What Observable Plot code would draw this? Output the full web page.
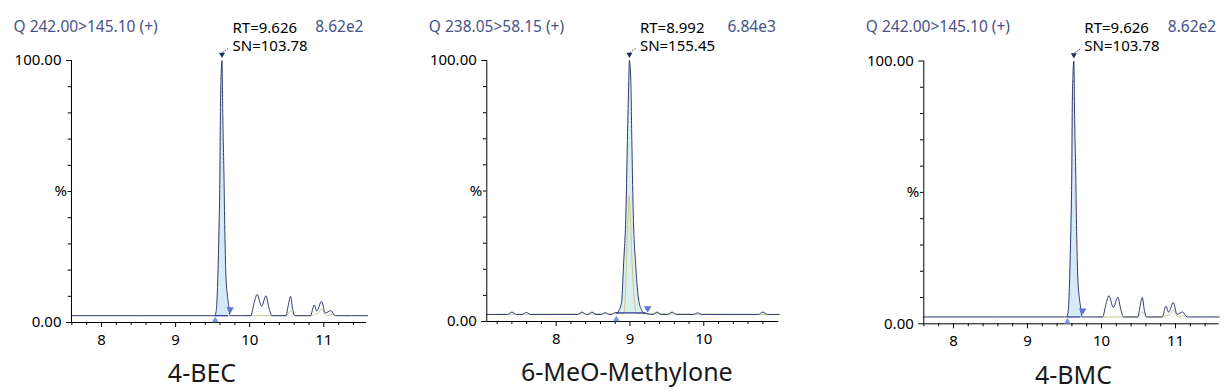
<!DOCTYPE html>
<html><head><meta charset="utf-8">
<script src="https://cdn.jsdelivr.net/npm/d3@7"></script>
<script src="https://cdn.jsdelivr.net/npm/@observablehq/plot@0.6"></script>
<style>
body{margin:0;background:#fff;}
#wrap{position:relative;width:1228px;height:391px;overflow:hidden;background:#fff;}
#wrap svg{position:absolute;top:0;}
</style></head><body><div id="wrap"></div>
<script>
// ---- data ----
const titles = ["4-BEC", "6-MeO-Methylone", "4-BMC"];
const transitions = ["Q 242.00>145.10 (+)", "Q 238.05>58.15 (+)", "Q 242.00>145.10 (+)"];
const maxIntensity = ["8.62e2", "6.84e3", "8.62e2"];
const rtValues = [9.626, 8.992, 9.626];
const snValues = [103.78, 155.45, 103.78];
const peakStart = [9.535, 8.815, 9.54];
const peakEnd = [9.735, 9.24, 9.745];
const baseLevel = [2.6, 2.7, 2.6];
const integrationLevel = [2.6, 3.3, 2.6];
const majorTicks = [[8, 9, 10, 11], [8, 9, 10], [8, 9, 10, 11]];

// chromatogram for 242.00>145.10 (4-BEC and 4-BMC)
const timeA = [7.59, 9.50, 9.525, 9.545, 9.556, 9.571, 9.585, 9.598, 9.606, 9.615, 9.626, 9.630, 9.634, 9.652, 9.664, 9.678, 9.700, 9.714, 9.735,
  10.015, 10.06, 10.10, 10.16, 10.22, 10.26, 10.30, 10.49, 10.52, 10.55, 10.58, 10.61, 10.82, 10.87, 10.905, 10.97, 11.02, 11.095, 11.155, 11.59];
const intensityA = [2.6, 2.6, 2.6, 4, 7, 18.6, 35, 56.7, 84.7, 95, 100, 95, 84.7, 56.7, 35, 18.6, 10, 7, 2.6,
  2.6, 7.5, 10.7, 6.2, 10.2, 5.5, 2.6, 2.6, 6.5, 10.0, 5, 2.6, 2.6, 6.7, 4.4, 8.1, 3.6, 4.5, 2.6, 2.6];
const timeA2 = [9.95, 10.49, 10.525, 10.55, 10.575, 10.61, 10.84, 10.88, 10.92, 10.97, 11.01, 11.06, 11.10, 11.14];
const intensityA2 = [2.6, 2.6, 3.6, 4.6, 3.6, 2.6, 2.6, 3.2, 3.4, 5.3, 3.3, 2.6, 3.1, 2.6];

// chromatogram for 238.05>58.15 (6-MeO-Methylone)
const timeB = [7.06, 7.34, 7.40, 7.46, 7.54, 7.595, 7.65, 8.29, 8.35, 8.41, 8.43, 8.485, 8.54, 8.61, 8.665, 8.72, 8.75, 8.80, 8.83, 8.856, 8.875, 8.889, 8.911, 8.947, 8.965, 8.984, 8.992, 9.011, 9.025, 9.042, 9.079, 9.119, 9.155, 9.18,
  9.31, 9.366, 9.42, 9.51, 9.57, 9.63, 9.86, 9.917, 9.97, 10.74, 10.80, 10.86, 11.02];
const intensityB = [2.7, 2.7, 3.6, 2.7, 2.7, 3.5, 2.7, 2.7, 3.6, 2.7, 2.7, 3.6, 2.7, 2.7, 3.4, 2.7, 2.7, 3.4, 3.2, 4.6, 6, 8, 20.8, 43.8, 69.3, 92.3, 100, 92.3, 69.3, 43.8, 20.8, 8, 4.6, 3.4,
  2.7, 3.6, 2.7, 2.7, 3.6, 2.7, 2.7, 3.3, 2.7, 2.7, 3.6, 2.7, 2.7];
const timeB2 = [7.06, 8.915, 8.94, 8.955, 8.975, 8.99, 9.005, 9.02, 9.04, 9.06, 9.09, 11.02];
const intensityB2 = [2.7, 3, 12, 25, 40, 48, 40, 28, 16, 8, 3, 2.7];

const traces = [[timeA, intensityA], [timeB, intensityB], [timeA, intensityA]];
const traces2 = [[timeA2, intensityA2], [timeB2, intensityB2], [timeA2, intensityA2]];

// ---- layout ----
const layout = [
  {left: 0, width: 409, marginLeft: 71, marginRight: 43, marginTop: 60, marginBottom: 69, domain: [7.595, 11.576], titleDx: -17, fill: "#d6e9f6"},
  {left: 410, width: 409, marginLeft: 76.3, marginRight: 40.7, marginTop: 60, marginBottom: 70, domain: [7.06, 11.016], titleDx: -6, fill: "#dcefef"},
  {left: 818, width: 410, marginLeft: 105.3, marginRight: 9.3, marginTop: 60.5, marginBottom: 67.7, domain: [7.599, 11.59], titleDx: 2, fill: "#d6e9f6"}
];

const zip = (ts, vs) => ts.map((t, i) => ({t, v: vs[i]}));
const wrap = document.getElementById("wrap");

layout.forEach((L, i) => {
  const trace = zip(...traces[i]);
  const trace2 = zip(...traces2[i]);
  const ib = integrationLevel[i];
  const inPeak = trace.filter(d => d.t >= peakStart[i] && d.t <= peakEnd[i]);
  const minor = d3.range(Math.ceil(L.domain[0] * 5) / 5, L.domain[1], 0.2).filter(t => Math.abs(t - Math.round(t)) > 0.01);
  const rt = rtValues[i];
  const navy = "#2e3b6e";
  const plot = Plot.plot({
    width: L.width, height: 391,
    marginLeft: L.marginLeft, marginRight: L.marginRight, marginTop: L.marginTop, marginBottom: L.marginBottom,
    x: {domain: L.domain, label: null},
    y: {domain: [0, 100], label: null},
    style: {fontFamily: "'Noto Sans', sans-serif", fontSize: "14px", color: "#000", background: "transparent"},
    marks: [
      Plot.areaY(inPeak, {x: "t", y1: ib, y2: d => Math.max(d.v, ib), fill: L.fill, curve: "monotone-x"}),
      Plot.line(trace2, {x: "t", y: "v", stroke: "#c8c890", strokeWidth: 1, curve: "monotone-x"}),
      Plot.line(trace, {x: "t", y: "v", stroke: navy, strokeWidth: 1, curve: "monotone-x"}),
      Plot.ruleY([ib], {x1: peakStart[i], x2: peakEnd[i] - 0.02, stroke: "#1f2c9c", strokeWidth: 1.2}),
      // axes
      Plot.ruleY([0], {stroke: "#000"}),
      Plot.ruleX([L.domain[0]], {y1: 0, y2: 100, stroke: "#000"}),
      Plot.axisX({ticks: majorTicks[i], tickSize: 5, tickPadding: 7, tickFormat: d3.format("d"), fontSize: 15, label: null, stroke: "#000"}),
      Plot.axisX({ticks: minor, tickSize: 3, tickFormat: () => "", label: null, stroke: "#000"}),
      Plot.axisY({ticks: [0, 100], tickSize: 5, tickPadding: 5, tickFormat: d3.format(".2f"), fontSize: 15, label: null, stroke: "#000"}),
      Plot.axisY({ticks: d3.range(10, 100, 10), tickSize: 3.3, tickFormat: () => "", label: null, stroke: "#000"}),
      Plot.text(["%"], {frameAnchor: "left", y: 50, dx: -17, fontSize: 15, fill: "#000"}),
      // peak markers
      Plot.dot([rt], {x: d => d, y: 100, symbol: "triangle", rotate: 180, r: 2.2, fill: "#1c2b5a", dy: -6}),
      Plot.dot([peakStart[i]], {x: d => d, y: 0.8, symbol: "triangle", r: 2.5, fill: "#8193e6"}),
      Plot.dot([peakEnd[i]], {x: d => d, y: 5, symbol: "triangle", rotate: 180, r: 2.8, fill: "#5f72d8"}),
      Plot.link([rt], {x1: d => d, y1: 100, x2: d => d + 0.09, y2: 101.8, dx: 0.5, dy: -8, stroke: "#222", strokeWidth: 0.8, strokeDasharray: "1.5,1.2"}),
      // annotations
      Plot.text([`RT=${rt.toFixed(3)}`], {x: rt, y: 100, dx: 10.5, dy: -27.7, lineAnchor: "bottom", textAnchor: "start", fontSize: 15, fill: "#000"}),
      Plot.text([`SN=${snValues[i].toFixed(2)}`], {x: rt, y: 100, dx: 10.5, dy: -10, lineAnchor: "bottom", textAnchor: "start", fontSize: 15, fill: "#000"}),
      Plot.text([transitions[i]], {frameAnchor: "top-left", dx: -58, dy: -29, lineAnchor: "bottom", textAnchor: "start", fontSize: 15.5, fill: "#48528a"}),
      Plot.text([maxIntensity[i]], {frameAnchor: "top-right", dx: -3, dy: -29, lineAnchor: "bottom", textAnchor: "end", fontSize: 15.5, fill: "#48528a"}),
      Plot.text([titles[i]], {frameAnchor: "bottom", dx: L.titleDx, dy: 59.7, lineAnchor: "bottom", fontSize: 25, fill: "#1a1a1a"})
    ]
  });
  plot.style.left = L.left + "px";
  wrap.appendChild(plot);
});
</script>
</body></html>
